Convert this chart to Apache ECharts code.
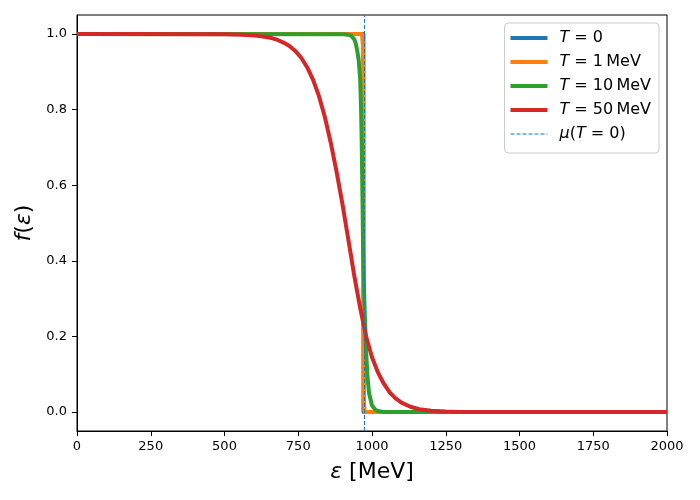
<!DOCTYPE html>
<html>
<head>
<meta charset="utf-8">
<script src="https://cdn.jsdelivr.net/npm/echarts@6/dist/echarts.min.js"></script>
<style>
  html, body { margin: 0; padding: 0; background: #fff; }
  #chart { width: 700px; height: 500px; }
</style>
</head>
<body>
<div id="chart"></div>
<script>
// chemical potential at T = 0 (MeV), dashed line
var muMeV = 973;

// T = 0 : step
var t0X = [0, 971, 971, 2000];
var t0Y = [1, 1, 0, 0];

// T = 1 MeV
var t1X = [0, 966, 969, 970, 971, 972, 973, 975, 2000];
var t1Y = [1, 1, 0.97, 0.85, 0.5, 0.15, 0.03, 0, 0];

// T = 10 MeV
var t10X = [0, 900, 920, 930, 940, 945, 950, 955, 960, 963, 965, 968, 970, 975, 980, 985, 990, 1000, 1010, 1020, 1040, 1060, 2000];
var t10Y = [1, 0.999, 0.998, 0.995, 0.985, 0.975, 0.955, 0.93, 0.88, 0.8, 0.72, 0.55, 0.42, 0.27, 0.16, 0.09, 0.05, 0.018, 0.007, 0.003, 0.0005, 0, 0];

// T = 50 MeV
var t50X = [0, 500, 560, 600, 620, 640, 660, 680, 700, 720, 740, 760, 780, 800, 820, 840, 860, 880, 900, 920, 940, 960, 980, 1000, 1020, 1040, 1060, 1080, 1100, 1130, 1160, 1200, 1250, 1300, 1400, 2000];
var t50Y = [1, 0.9994, 0.998, 0.996, 0.9945, 0.992, 0.989, 0.984, 0.977, 0.968, 0.955, 0.937, 0.912, 0.879, 0.836, 0.781, 0.713, 0.635, 0.549, 0.455, 0.36, 0.275, 0.2, 0.145, 0.105, 0.075, 0.052, 0.036, 0.025, 0.014, 0.0075, 0.0035, 0.0013, 0.0005, 0.0001, 0];

var xTicks = [0, 250, 500, 750, 1000, 1250, 1500, 1750, 2000];
var yTicks = [0, 0.2, 0.4, 0.6, 0.8, 1.0];

var names = ['T = 0', 'T = 1\u2009MeV', 'T = 10\u2009MeV', 'T = 50\u2009MeV', '\u03bc(T = 0)'];
var colors = ['#1f77b4', '#ff7f0e', '#2ca02c', '#d62728'];

function zip(xs, ys) {
  return xs.map(function (x, i) { return [x, ys[i]]; });
}

function curve(name, color, xs, ys) {
  return {
    name: name,
    type: 'line',
    data: zip(xs, ys),
    symbol: 'none',
    showSymbol: false,
    color: color,
    lineStyle: { color: color, width: 4, join: 'round' },
    silent: true
  };
}

var font = 'DejaVu Sans';
var myChart = echarts.init(document.getElementById('chart'), null, { renderer: 'canvas' });

var legendData = names.map(function (name, i) {
  return i < 4
    ? { name: name, lineStyle: { width: 4 } }
    : { name: name, lineStyle: { width: 1, type: [4, 2] } };
});

var option = {
  animation: false,
  backgroundColor: '#fff',
  grid: {
    left: 77, right: 33, top: 15, bottom: 69,
    show: true, borderColor: '#000', borderWidth: 1, backgroundColor: 'transparent'
  },
  legend: {
    orient: 'vertical',
    right: 41,
    top: 23,
    itemWidth: 37,
    itemHeight: 14,
    itemGap: 8,
    padding: [7, 8, 11, 4],
    backgroundColor: 'rgba(255,255,255,0.8)',
    borderColor: '#cccccc',
    borderWidth: 1,
    borderRadius: 4,
    itemStyle: { opacity: 0 },
    data: legendData,
    formatter: function (name) {
      return name.replace(/T/g, '{i|T}').replace('\u03bc', '{i|\u03bc}');
    },
    textStyle: {
      fontFamily: font,
      fontSize: 16,
      color: '#000',
      padding: [0, 0, 0, 7],
      rich: {
        i: { fontFamily: font, fontSize: 16, fontStyle: 'italic', color: '#000' }
      }
    }
  },
  xAxis: {
    type: 'value',
    min: 0,
    max: 2000,
    interval: 250,
    name: '{i|\u03b5} [MeV]',
    nameLocation: 'middle',
    nameGap: 30,
    nameTextStyle: {
      fontFamily: font, fontSize: 22, color: '#000', verticalAlign: 'top',
      rich: { i: { fontFamily: font, fontSize: 22, fontStyle: 'italic', color: '#000' } }
    },
    axisLine: { show: true, onZero: false, lineStyle: { color: '#000', width: 1 } },
    axisTick: { show: true, inside: false, length: 5, customValues: xTicks, lineStyle: { color: '#000' } },
    axisLabel: {
      margin: 9, customValues: xTicks, fontFamily: font, fontSize: 13, color: '#000',
      formatter: function (v) { return String(v); }
    },
    splitLine: { show: false }
  },
  yAxis: {
    type: 'value',
    min: -0.05,
    max: 1.05,
    name: '{i|f}({i|\u03b5})',
    nameLocation: 'middle',
    nameGap: 40,
    nameTextStyle: {
      fontFamily: font, fontSize: 22, color: '#000',
      rich: { i: { fontFamily: font, fontSize: 22, fontStyle: 'italic', color: '#000' } }
    },
    axisLine: { show: true, onZero: false, lineStyle: { color: '#000', width: 1 } },
    axisTick: { show: true, inside: false, length: 5, customValues: yTicks, lineStyle: { color: '#000' } },
    axisLabel: {
      margin: 10, customValues: yTicks, fontFamily: font, fontSize: 13, color: '#000',
      formatter: function (v) { return Number(v).toFixed(1); }
    },
    splitLine: { show: false }
  },
  series: [
    curve(names[0], colors[0], t0X, t0Y),
    curve(names[1], colors[1], t1X, t1Y),
    curve(names[2], colors[2], t10X, t10Y),
    curve(names[3], colors[3], t50X, t50Y),
    {
      name: names[4],
      type: 'line',
      data: [],
      symbol: 'none',
      color: colors[0],
      lineStyle: { color: colors[0], width: 1, type: [4, 2] },
      markLine: {
        silent: true,
        symbol: ['none', 'none'],
        label: { show: false },
        lineStyle: { color: colors[0], width: 1, type: [4, 2] },
        data: [{ xAxis: muMeV }]
      }
    }
  ]
};
myChart.setOption(option);
</script>
</body>
</html>
